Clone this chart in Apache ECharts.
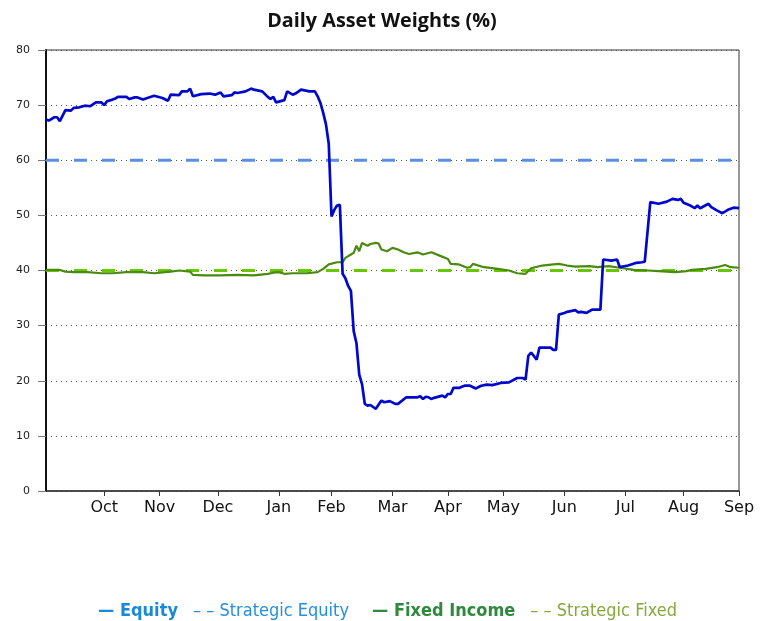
<!DOCTYPE html>
<html>
<head>
<meta charset="utf-8">
<title>Daily Asset Weights (%)</title>
<script src="https://cdn.jsdelivr.net/npm/echarts@6/dist/echarts.min.js"></script>
<style>
  html, body { margin: 0; padding: 0; background: #fff; }
  #chart { width: 770px; height: 621px; }
</style>
</head>
<body>
<div id="chart"></div>
<script>
// Trading-day index (0..250) on the x axis; month starts get a tick and a label.
const dayCount = 250;
const monthTickDays = [21, 41, 62, 84, 103, 125, 145, 165, 187, 209, 230, 250];
const monthLabels = ['Oct', 'Nov', 'Dec', 'Jan', 'Feb', 'Mar', 'Apr', 'May', 'Jun', 'Jul', 'Aug', 'Sep'];

// Portfolio weights, [trading day, weight %]
const equityWeights = [
  [0, 67.4], [1, 67.2], [3, 67.8], [4, 67.8], [5, 67.1], [7, 69.1], [9, 69.0], [10, 69.5],
  [12, 69.6], [14, 69.9], [16, 69.8], [18, 70.5], [20, 70.5], [21, 70.0], [22, 70.7], [24, 71.0],
  [25, 71.2], [26, 71.5], [29, 71.5], [30, 71.1], [32, 71.4], [33, 71.4], [35, 71.0], [36, 71.2],
  [39, 71.7], [42, 71.3], [44, 70.8], [45, 71.9], [48, 71.8], [49, 72.5], [51, 72.5], [52, 73.0],
  [53, 71.6], [56, 72.0], [59, 72.1], [61, 71.9], [63, 72.3], [64, 71.6], [67, 71.8], [68, 72.3],
  [69, 72.2], [72, 72.5], [74, 73.0], [75, 72.8], [78, 72.5], [80, 71.5], [81, 71.1], [82, 71.5],
  [83, 70.5], [86, 70.9], [87, 72.5], [89, 71.9], [90, 72.1], [92, 72.8], [95, 72.5], [97, 72.5],
  [98, 71.6], [99, 70.4], [100, 68.6], [101, 66.5], [102, 63.0], [103, 49.8], [104, 51.0], [105, 51.8],
  [106, 51.9], [107, 39.4], [108, 38.6], [109, 37.2], [110, 36.3], [111, 29.0], [112, 26.8], [113, 21.1],
  [114, 19.4], [115, 15.8], [116, 15.5], [117, 15.6], [119, 14.9], [120, 15.7], [121, 16.4], [122, 16.1],
  [124, 16.3], [126, 15.8], [127, 15.8], [130, 17.0], [134, 17.0], [135, 17.2], [136, 16.7], [137, 17.1],
  [138, 17.0], [139, 16.7], [140, 16.9], [143, 17.3], [144, 17.0], [145, 17.6], [146, 17.6], [147, 18.7],
  [149, 18.7], [150, 18.9], [151, 19.1], [153, 19.1], [155, 18.6], [157, 19.1], [159, 19.3], [161, 19.2],
  [164, 19.6], [167, 19.7], [170, 20.5], [172, 20.5], [173, 20.2], [174, 24.5], [175, 25.1], [176, 24.5],
  [177, 23.8], [178, 26.0], [180, 26.0], [182, 26.0], [183, 25.6], [184, 25.6], [185, 32.0], [187, 32.3],
  [188, 32.5], [191, 32.8], [192, 32.4], [193, 32.5], [195, 32.3], [197, 32.9], [200, 32.9], [201, 42.0],
  [204, 41.8], [206, 42.0], [207, 40.6], [210, 40.9], [213, 41.4], [215, 41.5], [216, 41.6], [218, 52.4],
  [221, 52.1], [224, 52.5], [226, 53.0], [228, 52.8], [229, 53.0], [230, 52.3], [232, 51.9], [234, 51.3],
  [235, 51.8], [236, 51.3], [239, 52.1], [240, 51.5], [242, 50.9], [244, 50.4], [246, 51.0], [248, 51.4],
  [250, 51.3]
];

const fixedIncomeWeights = [
  [0, 40.1], [5, 40.1], [7, 39.8], [10, 39.7], [15, 39.7], [20, 39.5], [24, 39.5], [29, 39.7],
  [35, 39.7], [39, 39.5], [45, 39.8], [48, 40.0], [52, 39.8], [53, 39.2], [57, 39.1], [63, 39.1],
  [69, 39.2], [75, 39.1], [80, 39.4], [82, 39.6], [84, 39.7], [86, 39.4], [89, 39.5], [94, 39.5],
  [98, 39.7], [100, 40.3], [102, 41.1], [105, 41.5], [107, 41.5], [108, 42.3], [110, 42.9], [111, 43.2],
  [112, 44.5], [113, 43.5], [114, 45.0], [116, 44.5], [117, 44.8], [119, 45.0], [120, 44.9], [121, 43.8],
  [123, 43.5], [125, 44.1], [127, 43.8], [129, 43.3], [131, 43.0], [134, 43.3], [136, 42.9], [139, 43.3],
  [142, 42.7], [145, 42.1], [146, 41.2], [149, 41.1], [152, 40.5], [153, 40.6], [154, 41.2], [158, 40.6],
  [163, 40.3], [167, 40.0], [170, 39.5], [173, 39.4], [175, 40.4], [179, 40.9], [183, 41.1], [185, 41.2],
  [188, 40.9], [191, 40.7], [196, 40.8], [199, 40.6], [203, 40.8], [207, 40.5], [212, 40.1], [217, 40.0],
  [221, 39.9], [227, 39.7], [231, 39.9], [233, 40.1], [238, 40.3], [242, 40.6], [245, 41.0], [247, 40.6],
  [250, 40.5]
];

// Strategic (target) allocations
const strategicEquity = [[0, 60], [250, 60]];
const strategicFixed = [[0, 40], [250, 40]];

const yTicks = { min: 0, max: 80, interval: 10 };

const chart = echarts.init(document.getElementById('chart'), null, { renderer: 'canvas' });

// Legend entries: the dash glyphs stand in for the line keys; trailing
// en spaces widen the gap after the regular-weight entries.
const legendItems = [
  { name: 'Equity', prefix: '\u2014 ', suffix: '', color: '#1a8ad6', weight: 'bold' },
  { name: 'Strategic Equity', prefix: '\u2013 \u2013 ', suffix: '\u2002', color: '#2390d8', weight: 'normal' },
  { name: 'Fixed Income', prefix: '\u2014 ', suffix: '', color: '#2d8a3c', weight: 'bold' },
  { name: 'Strategic Fixed', prefix: '\u2013 \u2013 ', suffix: '', color: '#86a83c', weight: 'normal' }
];

const legendFont = '"Liberation Sans Narrow", "DejaVu Sans Condensed", Roboto, sans-serif';

chart.setOption({
  animation: false,
  backgroundColor: '#ffffff',
  title: {
    text: 'Daily Asset Weights (%)',
    left: 377,
    top: 6,
    textAlign: 'center',
    textStyle: { fontFamily: '"Open Sans", sans-serif', fontSize: 19.8, fontWeight: 'bold', color: '#111' }
  },
  legend: {
    top: 597,
    left: 'center',
    itemGap: 10,
    itemWidth: 0,
    itemHeight: 0,
    selectedMode: false,
    data: legendItems.map(it => ({
      name: it.name,
      icon: 'none',
      textStyle: { color: it.color, fontWeight: it.weight, fontSize: 18, fontFamily: legendFont }
    })),
    formatter: name => {
      const it = legendItems.find(l => l.name === name);
      return it.prefix + name + it.suffix;
    }
  },
  grid: {
    left: 46,
    right: 31,
    top: 50,
    bottom: 130,
    show: true,
    borderColor: '#333',
    borderWidth: 1,
    backgroundColor: '#fff'
  },
  xAxis: {
    type: 'value',
    min: 0,
    max: dayCount,
    axisLine: { show: true, lineStyle: { color: '#333', width: 1.5 } },
    axisTick: { show: true, customValues: monthTickDays, length: 5, lineStyle: { color: '#333', width: 1 } },
    axisLabel: {
      customValues: monthTickDays,
      formatter: v => monthLabels[monthTickDays.indexOf(v)] || '',
      margin: 9,
      fontSize: 16,
      color: '#111',
      fontFamily: '"DejaVu Sans", sans-serif'
    },
    splitLine: { show: false }
  },
  yAxis: {
    type: 'value',
    min: yTicks.min,
    max: yTicks.max,
    interval: yTicks.interval,
    axisLine: { show: true, lineStyle: { color: '#111', width: 2 } },
    axisTick: { show: true, length: 8, lineStyle: { color: '#777', width: 1 } },
    axisLabel: { margin: 16, fontSize: 11, color: '#222', fontFamily: '"DejaVu Sans", sans-serif' },
    splitLine: { show: true, lineStyle: { color: '#555', width: 1, type: [1, 4] } }
  },
  series: [
    {
      name: 'Strategic Equity', type: 'line', data: strategicEquity, showSymbol: false, silent: true,
      lineStyle: { color: '#5b8fe6', width: 3, type: [13, 15] }, itemStyle: { color: '#5b8fe6' }, z: 2
    },
    {
      name: 'Strategic Fixed', type: 'line', data: strategicFixed, showSymbol: false, silent: true,
      lineStyle: { color: '#66c800', width: 3, type: [13, 15] }, itemStyle: { color: '#66c800' }, z: 2
    },
    {
      name: 'Fixed Income', type: 'line', data: fixedIncomeWeights, showSymbol: false, silent: true,
      lineStyle: { color: '#4a8a10', width: 2.2 }, itemStyle: { color: '#4a8a10' }, z: 3
    },
    {
      name: 'Equity', type: 'line', data: equityWeights, showSymbol: false, silent: true,
      lineStyle: { color: '#0008cc', width: 2.7 }, itemStyle: { color: '#0008cc' }, z: 4
    }
  ]
});
</script>
</body>
</html>
